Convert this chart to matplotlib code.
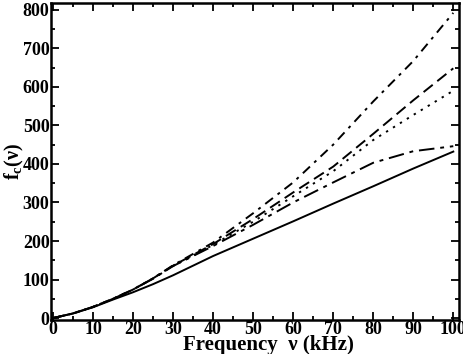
import numpy as np
from matplotlib import pyplot as plt
from matplotlib.ticker import MultipleLocator

# frequency points (kHz)
freq = [0, 5, 10, 15, 20, 25, 30, 40, 50, 60, 70, 80, 90, 100]

# f_c(nu) for each case
f_solid = [0, 12, 28, 48, 67, 88, 111, 161, 206, 251, 297, 342, 388, 432]
f_dashdot_long = [0, 12, 29, 50, 74, 102, 135, 187, 242, 300, 352, 403, 433, 446]
f_dotted = [0, 12, 29, 50, 74, 103, 135, 190, 250, 316, 381, 462, 527, 590]
f_dashed = [0, 12, 29, 50, 74, 103, 136, 192, 257, 326, 393, 478, 565, 648]
f_dashdot = [0, 12, 29, 50, 74, 103, 137, 196, 272, 352, 450, 562, 667, 792]

plt.rcParams['font.family'] = ['Liberation Serif', 'DejaVu Serif']
plt.rcParams['font.weight'] = 'bold'
plt.rcParams['mathtext.fontset'] = 'custom'
plt.rcParams['mathtext.rm'] = 'Liberation Serif:bold'
plt.rcParams['mathtext.bf'] = 'Liberation Serif:bold'
plt.rcParams['mathtext.it'] = 'Liberation Serif:bold'

fig = plt.figure(figsize=(4.63, 3.54), dpi=100)
ax = fig.add_axes([0.110, 0.096, 0.882, 0.896])

lw = 1.4
ax.plot(freq, f_solid, color='black', lw=lw)
ax.plot(freq, f_dashdot_long, color='black', lw=lw, dashes=(8, 3, 2, 3))
ax.plot(freq, f_dotted, color='black', lw=lw, dashes=(1.2, 3))
ax.plot(freq, f_dashed, color='black', lw=lw, dashes=(6, 3))
ax.plot(freq, f_dashdot, color='black', lw=lw, dashes=(5, 3, 1.5, 3))

ax.set_xlim(-0.5, 101.5)
ax.set_ylim(-5, 818)
ax.xaxis.set_major_locator(MultipleLocator(10))
ax.xaxis.set_minor_locator(MultipleLocator(5))
ax.yaxis.set_major_locator(MultipleLocator(100))
ax.yaxis.set_minor_locator(MultipleLocator(50))
ax.tick_params(which='both', direction='in', top=True, right=True, width=1.3)
ax.tick_params(which='major', length=6, labelsize=13, pad=1)
ax.tick_params(which='minor', length=3)
for s in ax.spines.values():
    s.set_linewidth(1.8)

ax.set_xlabel('Frequency  \u03bd (kHz)', fontsize=15, fontweight='bold')
ax.xaxis.set_label_coords(0.532, -0.095)
ax.xaxis.label.set_va('baseline')
ax.set_ylabel(r'$\mathrm{f_c(\nu)}$', fontsize=14.5, labelpad=-2)

fig.savefig('out.png', dpi=100)
